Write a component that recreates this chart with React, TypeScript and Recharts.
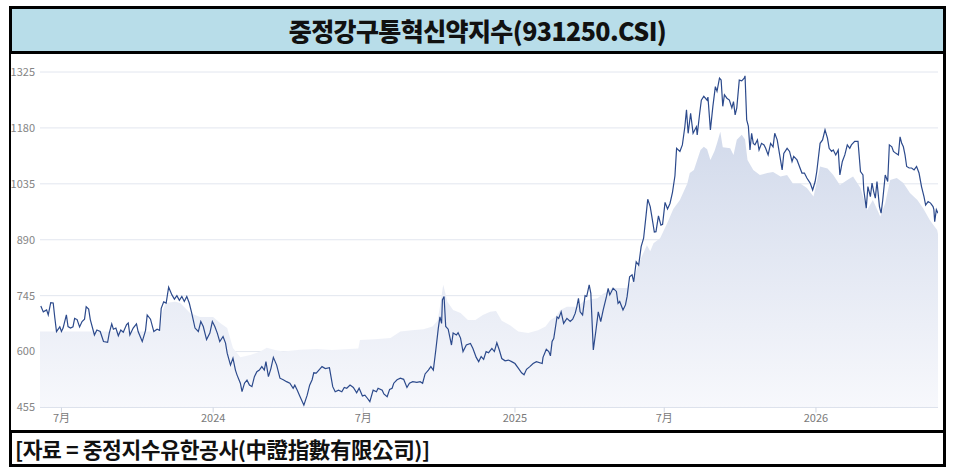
import React from "react";
import { ComposedChart, Line, Area, XAxis, YAxis, CartesianGrid } from "recharts";

const TITLE = "중정강구통혁신약지수(931250.CSI)";
const SOURCE = "[자료 = 중정지수유한공사(中證指數有限公司)]";

const yTicks = [455, 600, 745, 890, 1035, 1180, 1325];
const xTickDates = ["2023-07-01", "2024-01-01", "2024-07-01", "2025-01-01", "2025-07-01", "2026-01-01"];
const xTickLabels = ["7月", "2024", "7月", "2025", "7月", "2026"];
const xDomain = ["2023-06-05", "2026-05-29"];

const lineDates = [
  "2023-06-06","2023-06-09","2023-06-13","2023-06-15","2023-06-18","2023-06-21","2023-06-23","2023-06-25","2023-06-29",
  "2023-07-01","2023-07-03","2023-07-07","2023-07-09","2023-07-12","2023-07-15","2023-07-17","2023-07-20","2023-07-23","2023-07-26","2023-07-29","2023-07-31",
  "2023-08-03","2023-08-05","2023-08-10","2023-08-13","2023-08-17","2023-08-21","2023-08-26","2023-08-28","2023-08-31",
  "2023-09-02","2023-09-05","2023-09-08","2023-09-11","2023-09-14","2023-09-18","2023-09-20","2023-09-22","2023-09-26","2023-09-30",
  "2023-10-02","2023-10-07","2023-10-11","2023-10-13","2023-10-17","2023-10-21","2023-10-25","2023-10-28","2023-10-30",
  "2023-11-02","2023-11-05","2023-11-08","2023-11-12","2023-11-15","2023-11-18","2023-11-21","2023-11-24","2023-11-27","2023-11-30",
  "2023-12-03","2023-12-06","2023-12-10","2023-12-14","2023-12-17","2023-12-20","2023-12-24","2023-12-28","2023-12-31",
  "2024-01-03","2024-01-06","2024-01-09","2024-01-13","2024-01-16","2024-01-18","2024-01-22","2024-01-25","2024-01-28","2024-01-30",
  "2024-02-03","2024-02-05","2024-02-08","2024-02-11","2024-02-14","2024-02-17","2024-02-20","2024-02-23","2024-02-26","2024-02-29",
  "2024-03-03","2024-03-05","2024-03-08","2024-03-11","2024-03-14","2024-03-18","2024-03-22","2024-03-26","2024-03-30",
  "2024-04-03","2024-04-07","2024-04-09","2024-04-12","2024-04-15","2024-04-20","2024-04-24","2024-04-27","2024-04-30",
  "2024-05-02","2024-05-05","2024-05-09","2024-05-12","2024-05-16","2024-05-21","2024-05-25","2024-05-28",
  "2024-06-01","2024-06-05","2024-06-08","2024-06-11","2024-06-15","2024-06-19","2024-06-23","2024-06-26","2024-06-30",
  "2024-07-03","2024-07-06","2024-07-09","2024-07-13","2024-07-17","2024-07-19","2024-07-24","2024-07-26","2024-07-30",
  "2024-08-02","2024-08-05","2024-08-07","2024-08-11","2024-08-15","2024-08-19","2024-08-23","2024-08-26","2024-08-30",
  "2024-09-04","2024-09-08","2024-09-11","2024-09-14","2024-09-18","2024-09-21","2024-09-24","2024-09-27","2024-09-30",
  "2024-10-02","2024-10-04","2024-10-05","2024-10-07","2024-10-09","2024-10-12","2024-10-16","2024-10-18","2024-10-22","2024-10-24","2024-10-27","2024-10-30",
  "2024-11-03","2024-11-08","2024-11-11","2024-11-15","2024-11-18","2024-11-21","2024-11-24","2024-11-27","2024-11-30",
  "2024-12-04","2024-12-07","2024-12-10","2024-12-13","2024-12-16","2024-12-20","2024-12-24","2024-12-28",
  "2025-01-01","2025-01-05","2025-01-09","2025-01-12","2025-01-15","2025-01-19","2025-01-23","2025-01-27",
  "2025-02-03","2025-02-04","2025-02-08","2025-02-11","2025-02-13","2025-02-15","2025-02-17","2025-02-21","2025-02-23","2025-02-26",
  "2025-03-01","2025-03-05","2025-03-09","2025-03-12","2025-03-15","2025-03-17","2025-03-19","2025-03-21","2025-03-24","2025-03-27","2025-03-29",
  "2025-04-01","2025-04-03","2025-04-06","2025-04-09","2025-04-12","2025-04-15","2025-04-18","2025-04-22","2025-04-24","2025-04-26","2025-04-30",
  "2025-05-04","2025-05-06","2025-05-08","2025-05-12","2025-05-15","2025-05-17","2025-05-20","2025-05-23","2025-05-25","2025-05-28","2025-05-31",
  "2025-06-03","2025-06-06","2025-06-09","2025-06-11","2025-06-14","2025-06-16","2025-06-19","2025-06-21","2025-06-24","2025-06-27","2025-06-29",
  "2025-07-02","2025-07-05","2025-07-08","2025-07-11","2025-07-14","2025-07-16","2025-07-20","2025-07-23","2025-07-26","2025-07-28","2025-07-30",
  "2025-08-02","2025-08-05","2025-08-09","2025-08-10","2025-08-13","2025-08-15","2025-08-18","2025-08-22","2025-08-23","2025-08-26","2025-08-29",
  "2025-09-01","2025-09-03","2025-09-06","2025-09-08","2025-09-10","2025-09-12","2025-09-15","2025-09-18","2025-09-21","2025-09-23","2025-09-25","2025-09-27","2025-09-30",
  "2025-10-03","2025-10-06","2025-10-07","2025-10-09","2025-10-11","2025-10-13","2025-10-15","2025-10-17","2025-10-19","2025-10-22","2025-10-24","2025-10-27","2025-10-30",
  "2025-11-01","2025-11-04","2025-11-07","2025-11-10","2025-11-12","2025-11-15","2025-11-18","2025-11-21","2025-11-23","2025-11-27","2025-11-30",
  "2025-12-03","2025-12-05","2025-12-09","2025-12-12","2025-12-15","2025-12-18","2025-12-21","2025-12-25","2025-12-28","2025-12-31",
  "2026-01-02","2026-01-06","2026-01-09","2026-01-12","2026-01-15","2026-01-17","2026-01-20","2026-01-22","2026-01-25","2026-01-28","2026-01-30",
  "2026-02-02","2026-02-05","2026-02-08","2026-02-11","2026-02-13","2026-02-17","2026-02-21","2026-02-24","2026-02-27","2026-02-28",
  "2026-03-03","2026-03-05","2026-03-08","2026-03-10","2026-03-12","2026-03-14","2026-03-16","2026-03-19","2026-03-21","2026-03-23","2026-03-26","2026-03-29","2026-03-31",
  "2026-04-03","2026-04-05","2026-04-08","2026-04-11","2026-04-13","2026-04-15","2026-04-17","2026-04-19","2026-04-21","2026-04-24","2026-04-27","2026-04-30",
  "2026-05-03","2026-05-06","2026-05-09","2026-05-12","2026-05-14","2026-05-17","2026-05-20","2026-05-23","2026-05-24","2026-05-25","2026-05-27","2026-05-29",
];

const lineValues = [
  718,703,708,695,727,726,687,652,664,
  652,661,695,665,661,664,686,683,664,678,684,716,
  710,683,643,656,652,626,624,648,672,
  658,661,641,656,650,670,674,643,661,672,
  652,626,655,695,684,652,658,655,712,
  729,726,767,747,736,745,733,743,730,743,
  726,700,661,652,678,665,631,648,678,
  665,648,626,639,622,596,565,583,552,539,
  518,496,518,526,513,509,535,548,552,561,
  552,574,535,556,585,565,531,527,522,
  518,505,513,500,485,461,487,513,527,
  545,544,554,561,556,558,509,496,
  500,496,507,505,513,507,493,505,485,
  487,479,470,500,496,505,500,490,483,
  502,505,518,527,531,528,507,518,522,
  520,522,518,542,552,561,552,604,660,
  690,673,734,743,665,658,617,648,643,649,635,600,
  617,621,608,585,574,587,580,600,597,
  608,600,623,604,582,576,578,574,
  569,557,545,540,554,561,569,574,
  569,585,606,600,589,626,634,690,686,703,
  673,686,678,684,699,716,738,703,695,745,743,
  773,751,604,652,703,678,708,743,764,747,764,
  756,725,730,708,721,743,794,799,781,833,824,
  872,894,954,995,976,950,910,911,952,928,930,
  987,970,984,1013,1056,1127,1119,1136,1183,1227,1166,
  1218,1166,1183,1162,1218,1252,1262,1252,1260,1175,1236,
  1287,1275,1309,1304,1236,1266,1257,1252,1232,1248,1214,1232,1304,
  1302,1309,1315,1201,1185,1123,1166,1140,1136,1149,1123,1140,1136,
  1127,1110,1140,1131,1166,1149,1110,1071,1114,1127,1119,
  1093,1106,1097,1080,1063,1063,1050,1037,1019,1041,
  1067,1140,1149,1175,1153,1127,1119,1123,1110,1123,1058,
  1093,1110,1136,1127,1136,1145,1145,1067,1058,1019,
  972,1028,1002,1037,1015,998,1041,976,959,993,1058,1041,1136,
  1131,1119,1114,1110,1157,1140,1131,1110,1080,1076,1076,1071,
  1080,1063,1028,1002,980,989,985,976,968,937,968,959,
];

const areaDates = [
  "2023-06-05","2023-10-29","2023-10-31","2023-11-04","2023-11-16","2023-11-22","2023-11-28","2023-12-04","2023-12-16",
  "2024-01-01","2024-01-09","2024-01-18","2024-01-25","2024-02-03","2024-02-15","2024-02-27","2024-03-06","2024-03-16","2024-03-26",
  "2024-04-15","2024-05-06","2024-05-24","2024-06-25","2024-06-27","2024-07-15","2024-08-03","2024-08-15","2024-08-29",
  "2024-09-12","2024-09-23","2024-09-29","2024-10-02","2024-10-06","2024-10-11","2024-10-18","2024-10-27","2024-11-05",
  "2024-11-14","2024-11-23","2024-12-02","2024-12-09","2024-12-16","2024-12-26",
  "2025-01-05","2025-01-17","2025-01-29","2025-02-07","2025-02-13","2025-02-19","2025-02-25","2025-03-05","2025-03-17",
  "2025-03-25","2025-04-02","2025-04-11","2025-04-18","2025-04-23","2025-04-29","2025-05-09","2025-05-17","2025-05-24",
  "2025-06-02","2025-06-10","2025-06-14","2025-06-18","2025-06-26","2025-07-05","2025-07-12","2025-07-20","2025-07-29",
  "2025-08-01","2025-08-06","2025-08-10","2025-08-14","2025-08-18","2025-08-22","2025-08-26","2025-08-31",
  "2025-09-03","2025-09-07","2025-09-10","2025-09-19","2025-09-23","2025-09-27","2025-10-03","2025-10-07","2025-10-10",
  "2025-10-17","2025-10-25","2025-11-03","2025-11-10","2025-11-19","2025-11-27","2025-12-04","2025-12-13","2025-12-21","2025-12-29",
  "2026-01-01","2026-01-06","2026-01-15","2026-01-22","2026-01-30","2026-02-08","2026-02-15","2026-02-24",
  "2026-03-04","2026-03-11","2026-03-20","2026-03-26","2026-04-01","2026-04-09","2026-04-17","2026-04-25",
  "2026-05-04","2026-05-11","2026-05-19","2026-05-28","2026-05-29",
];

const areaValues = [
  652,652,700,726,729,726,713,700,690,
  690,675,661,609,585,591,600,610,604,600,
  605,607,604,608,630,632,635,652,655,
  658,665,680,716,773,729,708,700,682,
  682,695,703,705,680,668,
  652,648,655,665,682,690,708,716,716,
  730,735,738,750,755,765,765,765,785,
  838,876,860,881,894,935,970,993,1036,
  1063,1071,1097,1123,1131,1125,1097,1120,
  1140,1170,1130,1127,1110,1149,1162,1150,1097,
  1071,1058,1063,1066,1054,1058,1036,1036,1024,1002,
  1030,1080,1075,1058,1032,1045,1054,1024,
  967,993,950,985,1045,1050,1037,1011,
  993,972,941,915,905,
];

const toT = (s: string) => Date.parse(s);

type Row = { t: number; line?: number; area?: number };

const buildTable = (): Row[] => {
  const map = new Map<number, Row>();
  lineDates.forEach((d, i) => {
    const t = toT(d);
    const r = map.get(t) || { t };
    r.line = lineValues[i];
    map.set(t, r);
  });
  areaDates.forEach((d, i) => {
    const t = toT(d);
    const r = map.get(t) || { t };
    r.area = areaValues[i];
    map.set(t, r);
  });
  return Array.from(map.values()).sort((a, b) => a.t - b.t);
};

const table = buildTable();
const xTicks = xTickDates.map(toT);

const FONT = "'Noto Sans CJK KR', 'Noto Sans', sans-serif";

export default function App() {
  return (
    <div
      style={{
        position: "absolute",
        left: 0,
        top: 0,
        width: 957,
        height: 476,
        background: "#ffffff",
        fontFamily: FONT,
        overflow: "hidden",
      }}
    >
      <div
        style={{
          position: "absolute",
          left: 9,
          top: 6,
          width: 937,
          height: 48,
          boxSizing: "border-box",
          border: "3px solid #000",
          background: "#b8dde9",
          display: "flex",
          alignItems: "center",
          justifyContent: "center",
          fontSize: 25,
          fontWeight: 900,
          color: "#111",
          letterSpacing: -0.6,
        }}
      >
        {TITLE}
      </div>
      <div
        style={{
          position: "absolute",
          left: 9,
          top: 53,
          width: 937,
          height: 379,
          boxSizing: "border-box",
          borderLeft: "2px solid #000",
          borderRight: "3px solid #000",
        }}
      />
      <div style={{ position: "absolute", left: 0, top: 54 }}>
        <ComposedChart
          width={957}
          height={376}
          data={table}
          margin={{ top: 18, right: 19, left: 0, bottom: 2.5 }}
        >
          <defs>
            <linearGradient id="areaGrad" x1="0" y1="0" x2="0" y2="1">
              <stop offset="0%" stopColor="#d2daeb" stopOpacity={1} />
              <stop offset="100%" stopColor="#f7f8fc" stopOpacity={1} />
            </linearGradient>
          </defs>
          <CartesianGrid vertical={false} stroke="#e2e6ef" strokeWidth={1} />
          <XAxis
            type="number"
            dataKey="t"
            domain={[toT(xDomain[0]), toT(xDomain[1])]}
            ticks={xTicks}
            tickFormatter={(v: number) => {
              const i = xTicks.indexOf(v);
              return i >= 0 ? xTickLabels[i] : "";
            }}
            allowDataOverflow
            height={20}
            axisLine={{ stroke: "#dde2ec" }}
            tickLine={{ stroke: "#d0d6e2" }}
            tickSize={5}
            tickMargin={2}
            tick={{ fontSize: 11, fill: "#7a7a7a", fontFamily: FONT }}
          />
          <YAxis
            type="number"
            domain={[455, 1325]}
            ticks={yTicks}
            allowDataOverflow
            width={40}
            axisLine={false}
            tickLine={false}
            tickSize={5}
            tickMargin={0}
            tick={{ fontSize: 11, fill: "#858585", fontFamily: FONT }}
          />
          <Area
            type="linear"
            dataKey="area"
            stroke="none"
            fill="url(#areaGrad)"
            fillOpacity={1}
            connectNulls
            dot={false}
            activeDot={false}
            isAnimationActive={false}
          />
          <Line
            type="linear"
            dataKey="line"
            stroke="#2c4a8c"
            strokeWidth={1.2}
            connectNulls
            dot={false}
            activeDot={false}
            isAnimationActive={false}
          />
        </ComposedChart>
      </div>
      <div
        style={{
          position: "absolute",
          left: 9,
          top: 430,
          width: 937,
          height: 37,
          boxSizing: "border-box",
          border: "3px solid #000",
          background: "#fff",
          display: "flex",
          alignItems: "center",
          paddingLeft: 3,
          fontSize: 21.5,
          fontWeight: 700,
          color: "#111",
          letterSpacing: -0.4,
        }}
      >
        {SOURCE}
      </div>
    </div>
  );
}
